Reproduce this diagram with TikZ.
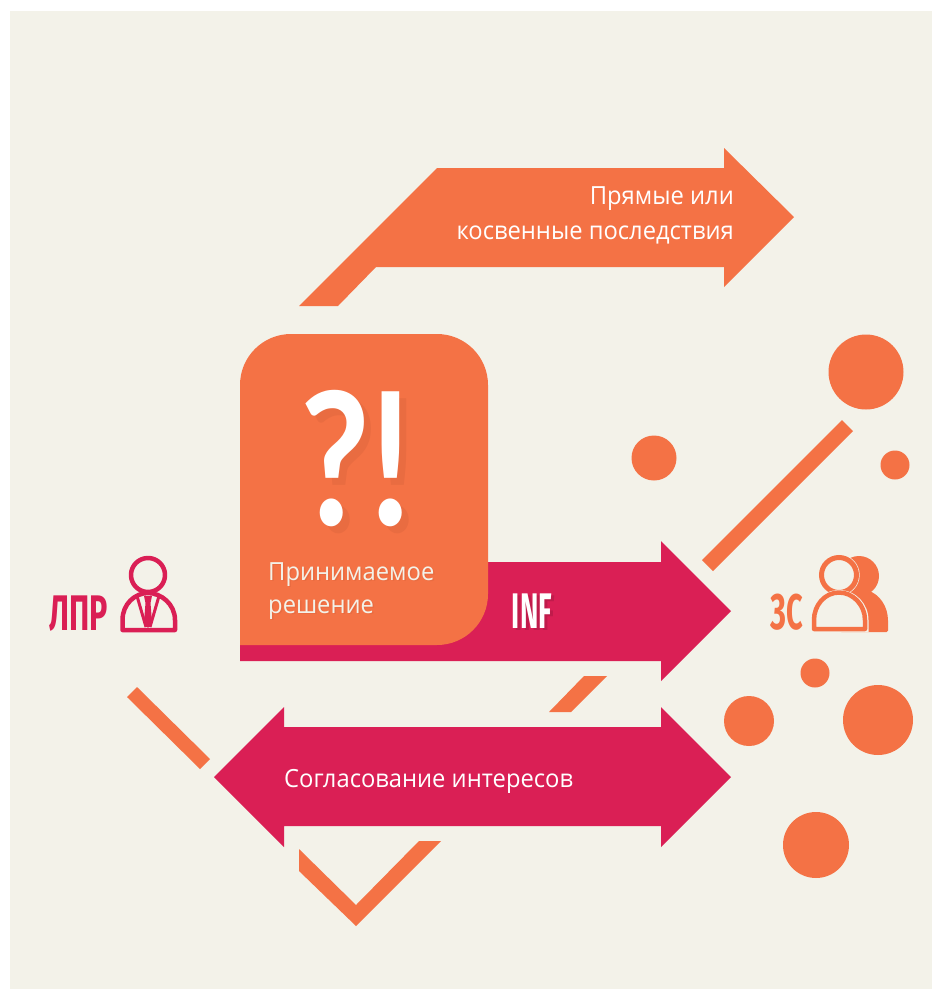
\documentclass[tikz,border=0pt]{standalone}
\usepackage{fontspec}
\setmainfont{Open Sans}
\newfontfamily\condfont{Fira Sans}
\newfontfamily\markfont{Lato}
\definecolor{orangeC}{HTML}{F47245}
\definecolor{magC}{HTML}{DA1F55}
\definecolor{bgC}{HTML}{F3F2E9}
\definecolor{shadowO}{HTML}{E96C41}
\definecolor{shadowM}{HTML}{C01B4B}
\tikzset{
  orangefill/.style={fill=orangeC,draw=none},
  magfill/.style={fill=magC,draw=none},
  body/.style={font=\fontsize{25}{25}\selectfont,text=white,inner sep=0pt,transform shape,xscale=0.95},
  cond/.style={font=\condfont\bfseries\fontsize{50}{50}\selectfont,inner sep=0pt,transform shape,xscale=#1},
  bigmark/.style={font=\markfont\bfseries\fontsize{185}{185}\selectfont,inner sep=0pt,transform shape,xscale=0.82}
}
\begin{document}
\begin{tikzpicture}[x=1pt,y=-1pt]
\useasboundingbox (0,0) rectangle (932,989);
\fill[white] (0,0) rectangle (932,989);
\fill[bgC] (10,11) rectangle (932,989);
% top arrow
\fill[orangefill] (299,306) -- (437,168) -- (724,168) -- (724,148) -- (794,217) -- (724,287) -- (724,267) -- (376,267) -- (338,306) -- cycle;
% sticks
\fill[orangefill] (127,697) -- (137,687) -- (210,759) -- (200,769) -- cycle;
\fill[orangefill] (702,560) -- (842,420) -- (853,431) -- (713,571) -- cycle;
\fill[orangefill] (549,712) -- (584,676) -- (607,676) -- (571,712) -- cycle;
\fill[orangefill] (299,849) -- (356,905) -- (419,841) -- (441,841) -- (356,926) -- (299,871) -- cycle;
% circles
\foreach \cx/\cy/\r in {866/372/37.5,654/458/22.5,895/465/14.5,749/721/25,815/673/14.5,878/720/35,816/845/33}
  \fill[orangeC] (\cx,\cy) circle[radius=\r];
% magenta arrows
\fill[magfill] (240,562) -- (661,562) -- (661,541) -- (731,611) -- (661,681) -- (661,661) -- (240,661) -- cycle;
\fill[magfill] (214,777) -- (284,707) -- (284,727) -- (661,727) -- (661,707) -- (731,777) -- (661,847) -- (661,826) -- (284,826) -- (284,847) -- cycle;
% rounded card
\fill[orangefill] (240,645) -- (240,385) arc[start angle=180,end angle=270,radius=51] -- (437,334) arc[start angle=270,end angle=360,radius=51] -- (488,594) arc[start angle=0,end angle=90,radius=51] -- cycle;
% ?!
\node[bigmark,text=shadowO,anchor=base] (qs) at (342,532) {?};
\node[bigmark,text=shadowO,anchor=base] (es) at (398,532) {!};
\node[bigmark,text=white,anchor=base] (q) at (335,525) {?};
\node[bigmark,text=white,anchor=base] (e) at (391,525) {!};
% texts
\node[body,anchor=base east] (t1) at (734,204) {Прямые или};
\node[body,anchor=base east] (t2) at (734,239) {косвенные последствия};
\node[body,anchor=base west,text=shadowO] (t3s) at (269.5,581.5) {Принимаемое};
\node[body,anchor=base west,text=shadowO] (t4s) at (269.5,614.5) {решение};
\node[body,anchor=base west,text=bgC] (t3) at (268,580) {Принимаемое};
\node[body,anchor=base west,text=bgC] (t4) at (268,613) {решение};
\node[body,anchor=base west] (t5) at (284,787) {Согласование интересов};
\node[cond=0.555,anchor=base,text=shadowM] (infs) at (535,630) {INF};
\node[cond=0.555,anchor=base,text=white] (inf) at (532,628) {INF};
\node[cond=0.61,anchor=base,text=magC] (lpr) at (79,630) {ЛПР};
\node[cond=0.58,anchor=base,text=orangeC] (zs) at (787,629) {ЗС};
% LPR icon
\begin{scope}[magC,line width=4.5pt,line join=round,line cap=round]
\draw (148,575) circle[radius=17];
\draw (122.5,630) -- (122.5,620) .. controls (122.5,604) and (135,593) .. (148,593) .. controls (161,593) and (175,604) .. (175,620) -- (175,630) -- cycle;
\end{scope}
\begin{scope}[magC,line width=3pt]
\draw (137,596) -- (146,627);
\draw (159,596) -- (150,627);
\fill (144,596) -- (152,596) -- (150.5,603) -- (152,622) -- (148,628) -- (144,622) -- (145.5,603) -- cycle;
\end{scope}
% ZS icon
\fill[orangeC] (859,576) circle[radius=20];
\fill[orangeC,rounded corners=1.5pt] (840,632) -- (840,592) -- (866,590) .. controls (880,594) and (888,607) .. (888,622) -- (888,632) -- cycle;
\fill[bgC] (839,575) circle[radius=20.7];
\draw[orangeC,line width=5pt] (839,575) circle[radius=17.5];
\fill[bgC] (810,632) -- (810,620) .. controls (810,604) and (822,590) .. (839,590) .. controls (856,590) and (868.5,604) .. (868.5,620) -- (868.5,632) -- cycle;
\draw[orangeC,line width=4.5pt,line join=round] (814,629) -- (814,620) .. controls (814,605) and (825,592.5) .. (839,592.5) .. controls (853,592.5) and (865,605) .. (865,620) -- (865,629) -- cycle;
\end{tikzpicture}
\end{document}
